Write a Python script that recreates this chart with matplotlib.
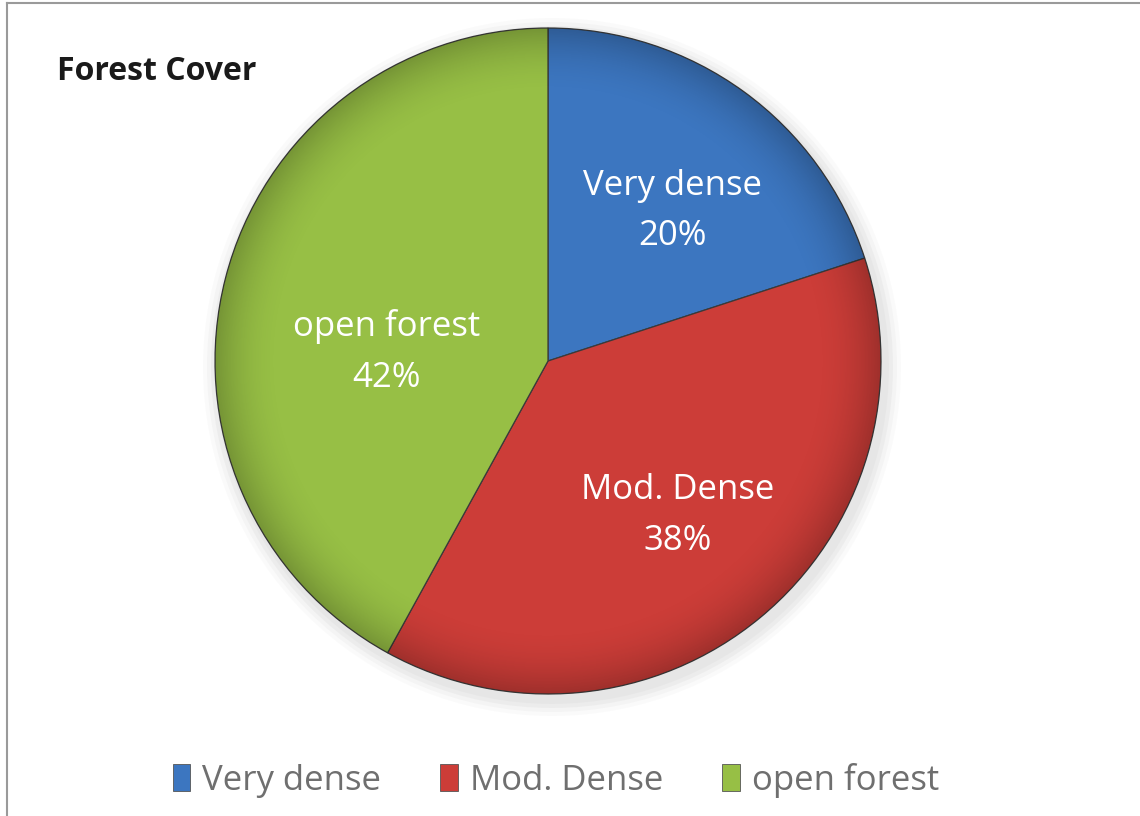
import numpy as np
import matplotlib
matplotlib.use("Agg")
import matplotlib.pyplot as plt
from matplotlib.patches import Rectangle, Circle
from matplotlib.lines import Line2D

plt.rcParams["font.family"] = ["Open Sans", "DejaVu Sans"]

# data
categories = ["Very dense", "Mod. Dense", "open forest"]
shares = [20, 38, 42]
colors = ["#3c76c0", "#cc3d38", "#97bf45"]
title = "Forest Cover"

W, H, DPI = 1140, 816, 100
fig = plt.figure(figsize=(W / DPI, H / DPI), dpi=DPI)
fig.patch.set_facecolor("white")

# pie axes: centre (548, 361) px, radius 333 px
cx, cy, R = 548, 361, 333
ax = fig.add_axes([(cx - R) / W, (H - cy - R) / H, 2 * R / W, 2 * R / H])
ax.set_xlim(-1, 1); ax.set_ylim(-1, 1); ax.axis("off")

# soft shadow behind the pie
for k, a in enumerate([0.05, 0.05, 0.04, 0.03]):
    ax.add_patch(Circle((0.012, -0.018), 1.0 + 0.012 * (k + 1), color="#707070",
                        alpha=a, lw=0, zorder=0, clip_on=False))

wedges, _ = ax.pie(shares, colors=colors, startangle=90, counterclock=False,
                   radius=1.0, wedgeprops=dict(edgecolor="#3a3a3a", linewidth=0.9),
                   frame=True)
ax.set_xlim(-1, 1); ax.set_ylim(-1, 1); ax.axis("off")

# subtle rim darkening
n = 400
yy, xx = np.mgrid[1:-1:n * 1j, -1:1:n * 1j]
rr = np.hypot(xx, yy)
shade = np.zeros((n, n, 4))
shade[..., 3] = np.clip((rr - 0.80) / 0.2, 0, 1) ** 2 * 0.22
img = ax.imshow(shade, extent=(-1, 1, -1, 1), zorder=3, interpolation="bilinear")
img.set_clip_path(Circle((0, 0), 1.0, transform=ax.transData))
ax.set_xlim(-1, 1); ax.set_ylim(-1, 1)

# slice labels
label_pos = [(0.375, 0.45), (0.388, -0.464), (-0.485, 0.027)]
for name, val, (lx, ly) in zip(categories, shares, label_pos):
    ax.text(lx, ly, f"{name}\n{val}%", color="white", fontsize=25,
            ha="center", va="center", linespacing=1.62, zorder=5)

fig.text(57 / W, 1 - 72 / H, title, fontsize=23, fontweight="bold",
         color="#1a1a1a", ha="left", va="center")

handles = [Rectangle((0, 0), 1, 1, facecolor=c, edgecolor="#555555", lw=0.6) for c in colors]
fig.legend(handles, categories, loc="center", bbox_to_anchor=(556 / W, 1 - 780 / H),
           ncol=3, frameon=False, fontsize=25, labelcolor="#6f6f6f",
           handlelength=0.5, handleheight=0.8, handletextpad=0.35, columnspacing=1.7)

# chart frame (top and left visible)
fig.add_artist(Line2D([7 / W, 1.0], [1 - 3 / H, 1 - 3 / H], color="#9a9a9a", lw=1.5))
fig.add_artist(Line2D([7 / W, 7 / W], [0.0, 1 - 3 / H], color="#9a9a9a", lw=1.5))

fig.savefig("out.png", dpi=DPI, facecolor="white")
